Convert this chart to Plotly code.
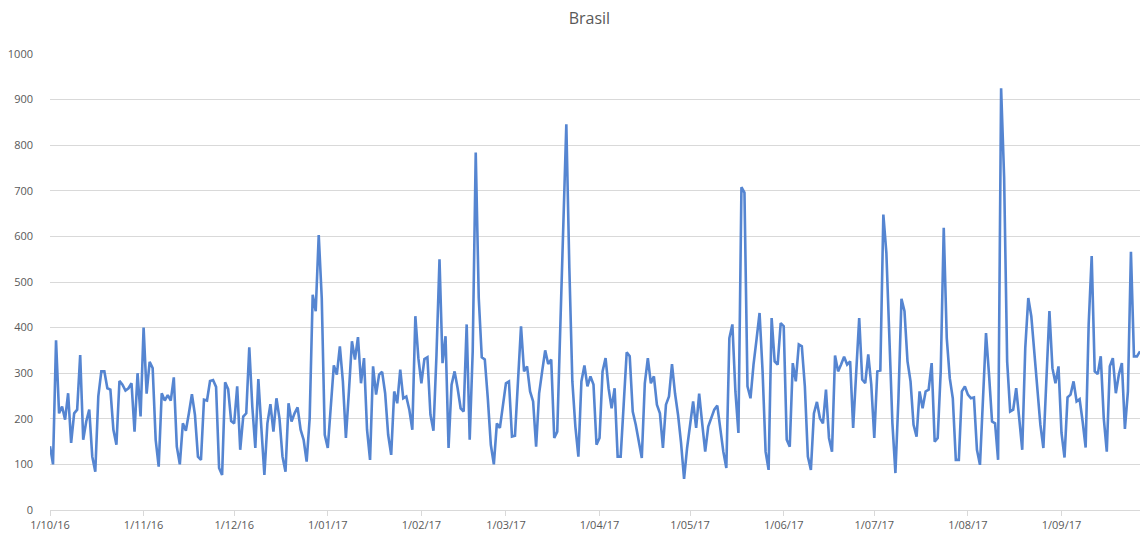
import pandas as pd
import plotly.graph_objects as go

# daily values, one list per month (Oct 2016 .. Sep 2017)
out_2016 = [140, 100, 372, 212, 227, 198, 256, 147, 212, 220, 340, 154, 194, 220, 117, 84,
            249, 304, 304, 267, 264, 176, 143, 283, 275, 262, 267, 278, 172, 300, 205]
nov_2016 = [400, 255, 325, 311, 154, 95, 256, 240, 252, 240, 291, 139, 100, 190, 174,
            212, 254, 209, 117, 110, 242, 240, 283, 285, 270, 92, 77, 280, 265, 195]
dez_2016 = [190, 271, 132, 205, 212, 357, 227, 136, 287, 180, 77, 190, 232, 172, 245, 201,
            117, 84, 234, 194, 212, 225, 176, 154, 106, 201, 472, 436, 603, 465, 165]
jan_2017 = [136, 231, 317, 297, 359, 282, 158, 260, 370, 330, 379, 278, 333, 176, 110, 315,
            253, 297, 303, 256, 165, 121, 260, 234, 308, 245, 249, 220, 176, 425, 333]
fev_2017 = [278, 331, 335, 209, 174, 340, 550, 322, 381, 136, 275, 304, 267, 223, 216, 407,
            154, 348, 784, 465, 335, 330, 245, 143, 100, 190, 180, 231]
mar_2017 = [278, 282, 161, 163, 289, 403, 304, 315, 260, 238, 139, 256, 304, 350, 320, 330,
            158, 172, 400, 620, 846, 531, 282, 183, 117, 282, 317, 271, 293, 275, 143]
abr_2017 = [158, 304, 333, 267, 223, 267, 117, 117, 231, 346, 337, 216, 187, 154, 114,
            278, 333, 278, 293, 231, 212, 136, 231, 249, 320, 256, 209, 147, 68, 136]
mai_2017 = [187, 238, 180, 255, 190, 128, 183, 201, 220, 229, 176, 128, 92, 377, 407, 260,
            169, 708, 696, 271, 245, 319, 374, 432, 304, 128, 88, 421, 326, 319, 410]
jun_2017 = [403, 154, 139, 322, 282, 363, 359, 271, 117, 88, 212, 237, 201, 190, 264,
            158, 128, 339, 304, 319, 336, 319, 326, 180, 300, 421, 286, 278, 341, 275]
jul_2017 = [158, 304, 306, 648, 564, 374, 190, 81, 245, 463, 436, 326, 282, 187, 161, 260,
            223, 260, 264, 322, 150, 158, 304, 619, 377, 289, 245, 110, 110, 260, 271]
ago_2017 = [253, 245, 247, 132, 99, 243, 388, 297, 194, 190, 110, 925, 729, 326, 216, 220,
            267, 201, 132, 355, 465, 425, 344, 275, 187, 136, 282, 436, 311, 278, 315]
set_2017 = [169, 115, 247, 253, 282, 238, 243, 194, 137, 407, 557, 304, 298, 337, 201,
            128, 315, 333, 256, 297, 322, 178, 260, 566, 337, 337, 348]

valores = (out_2016 + nov_2016 + dez_2016 + jan_2017 + fev_2017 + mar_2017 +
           abr_2017 + mai_2017 + jun_2017 + jul_2017 + ago_2017 + set_2017)
datas = pd.date_range("2016-10-01", periods=len(valores), freq="D")

cinza = "#595959"

fig = go.Figure(go.Scatter(
    x=datas, y=valores, mode="lines",
    line=dict(color="#5585D1", width=2.6),
    name="Brasil",
))

fig.update_layout(
    width=1140, height=533,
    margin=dict(l=50, r=0, t=54, b=23, autoexpand=False),
    paper_bgcolor="white", plot_bgcolor="white",
    font=dict(family="Open Sans", size=11, color=cinza),
    title=dict(text="Brasil", x=0.517, xanchor="center", y=0.966, yanchor="middle",
               font=dict(size=16, color=cinza), automargin=False),
    showlegend=False,
)

fig.update_xaxes(
    range=[datas[0], datas[-1]], automargin=False,
    tick0="2016-10-01", dtick="M1", tickformat="%-d/%m/%y",
    showgrid=False, showline=True, linecolor="#D9D9D9", linewidth=1,
    ticks="outside", ticklen=5, tickcolor="#D9D9D9",
    tickfont=dict(size=11, color=cinza),
)

fig.update_yaxes(
    range=[0, 1000], dtick=100, automargin=False,
    showgrid=True, gridcolor="#D9D9D9", gridwidth=1,
    zeroline=False, showline=False,
    ticklabelstandoff=16,
    tickfont=dict(size=11, color=cinza),
)

# tira a margem padrao do <body> para o grafico ocupar a janela toda
fig.write_html("out.html", config={"displayModeBar": False},
               post_script="document.body.style.margin='0';document.body.style.overflow='hidden';")
